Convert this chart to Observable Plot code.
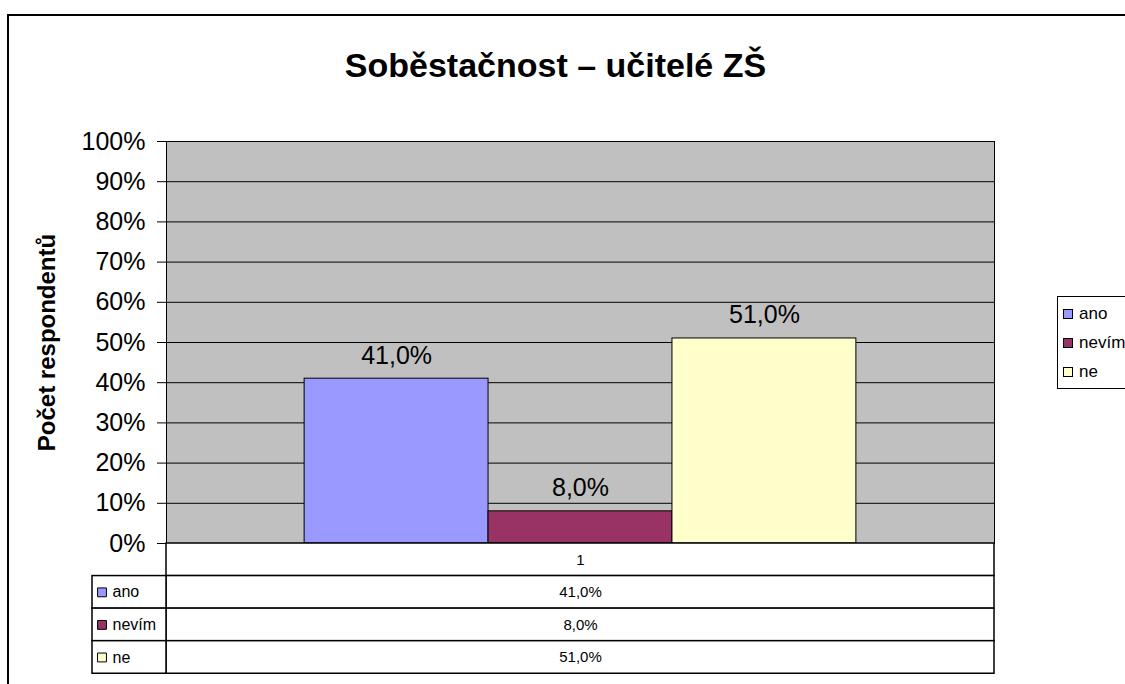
<!DOCTYPE html>
<html>
<head>
<meta charset="utf-8">
<script src="https://cdn.jsdelivr.net/npm/d3@7"></script>
<script src="https://cdn.jsdelivr.net/npm/@observablehq/plot@0.6"></script>
<style>
  html, body { margin: 0; padding: 0; overflow: hidden; background: #fff; }
  body { width: 1125px; height: 684px; position: relative; font-family: "Liberation Sans", Arial, sans-serif; }
  #chart { position: absolute; left: 0; top: 0; }
  #border { position: absolute; left: 7px; top: 14px; width: 1200px; height: 700px; border: 2px solid #000; pointer-events: none; }
  #legend { position: absolute; left: 1057px; top: 296px; width: 90px; height: 91px; border: 1.5px solid #000; background: #fff; }
  .li { position: absolute; left: 5px; font-size: 17px; line-height: 17px; white-space: nowrap; color: #000; }
  .sw { display: inline-block; width: 8px; height: 8px; border: 1px solid #000; margin-right: 6px; vertical-align: 0px; }
</style>
</head>
<body>
<div id="chart"></div>
<div id="border"></div>
<div id="legend"></div>
<script>
// ---- data ----
const title = "Soběstačnost – učitelé ZŠ";
const yLabel = "Počet respondentů";
const categories = ["ano", "nevím", "ne"];
const values = [0.41, 0.08, 0.51];
const valueLabels = ["41,0%", "8,0%", "51,0%"];
const colors = ["#9999ff", "#993366", "#ffffcc"];
const yTicks = [0, 0.1, 0.2, 0.3, 0.4, 0.5, 0.6, 0.7, 0.8, 0.9, 1.0];
const yTickLabels = ["0%", "10%", "20%", "30%", "40%", "50%", "60%", "70%", "80%", "90%", "100%"];
const tableHeader = "1";

// ---- layout ----
const W = 1125, H = 684;
const mL = 166, mR = 131, mT = 141, mB = 141;
const frameW = W - mL - mR;
const rowH = 0.081; // table row height in y units
const font = "'Liberation Sans', Arial, sans-serif";

const bars = categories.map((c, i) => ({cat: c, value: values[i], label: valueLabels[i]}));
const tableRows = [{cat: null, label: "", value: tableHeader}]
  .concat(categories.map((c, i) => ({cat: c, label: c, value: valueLabels[i]})))
  .map((d, i) => ({...d, row: i}));
const labelRows = tableRows.filter(d => d.cat !== null);

const chart = Plot.plot({
  width: W, height: H,
  marginLeft: mL, marginRight: mR, marginTop: mT, marginBottom: mB,
  style: {fontFamily: font, fontSize: "16px", color: "#000", background: "#fff"},
  x: {type: "band", domain: categories, paddingInner: 0, paddingOuter: 0.751, round: false, axis: null},
  y: {domain: [0, 1], axis: null},
  color: {domain: categories, range: colors},
  marks: [
    Plot.frame({fill: "#c0c0c0", stroke: "none"}),
    Plot.ruleY(yTicks, {stroke: "#000", strokeWidth: 1}),
    Plot.frame({stroke: "#000", fill: "none"}),
    Plot.barY(bars, {x: "cat", y: "value", fill: "cat", stroke: "#000", strokeWidth: 1}),
    Plot.text(bars, {x: "cat", y: "value", text: "label", dy: -15, lineAnchor: "bottom", fontSize: 25, fill: "#000"}),
    Plot.axisY(yTicks, {
      label: null,
      tickFormat: d => yTickLabels[yTicks.indexOf(d)],
      tickSize: 9, tickPadding: 12, fontSize: 25, stroke: "#000", fill: "#000"
    }),
    // data table
    Plot.rect(tableRows, {y1: d => -d.row * rowH, y2: d => -(d.row + 1) * rowH, fill: "#fff", stroke: "#000", strokeWidth: 1.5}),
    Plot.rect(labelRows, {y1: d => -d.row * rowH, y2: d => -(d.row + 1) * rowH, insetLeft: -74, insetRight: frameW, fill: "#fff", stroke: "#000", strokeWidth: 1.5}),
    Plot.text(tableRows, {y: d => -(d.row + 0.5) * rowH, text: "value", frameAnchor: "middle", fontSize: 15, fill: "#000"}),
    Plot.text(labelRows, {y: d => -(d.row + 0.5) * rowH, text: "label", frameAnchor: "left", textAnchor: "start", dx: -54, fontSize: 16, fill: "#000"}),
    Plot.dot(labelRows, {y: d => -(d.row + 0.5) * rowH, frameAnchor: "left", dx: -64.5, symbol: "square", r: 5, fill: "cat", stroke: "#000", strokeWidth: 1}),
    // titles
    Plot.text([title], {text: d => d, frameAnchor: "top", dx: -25, dy: -65, lineAnchor: "bottom", fontSize: 34, fontWeight: "bold", fill: "#000"}),
    Plot.text([yLabel], {text: d => d, frameAnchor: "left", textAnchor: "middle", dx: -119, rotate: -90, lineAnchor: "middle", fontSize: 24, fontWeight: "bold", fill: "#000"})
  ]
});
document.getElementById("chart").appendChild(chart);

// legend
const legend = document.getElementById("legend");
categories.forEach((c, i) => {
  const item = document.createElement("div");
  item.className = "li";
  item.style.top = (8 + i * 29) + "px";
  const sw = document.createElement("span");
  sw.className = "sw";
  sw.style.background = colors[i];
  item.appendChild(sw);
  item.appendChild(document.createTextNode(c));
  legend.appendChild(item);
});
</script>
</body>
</html>
